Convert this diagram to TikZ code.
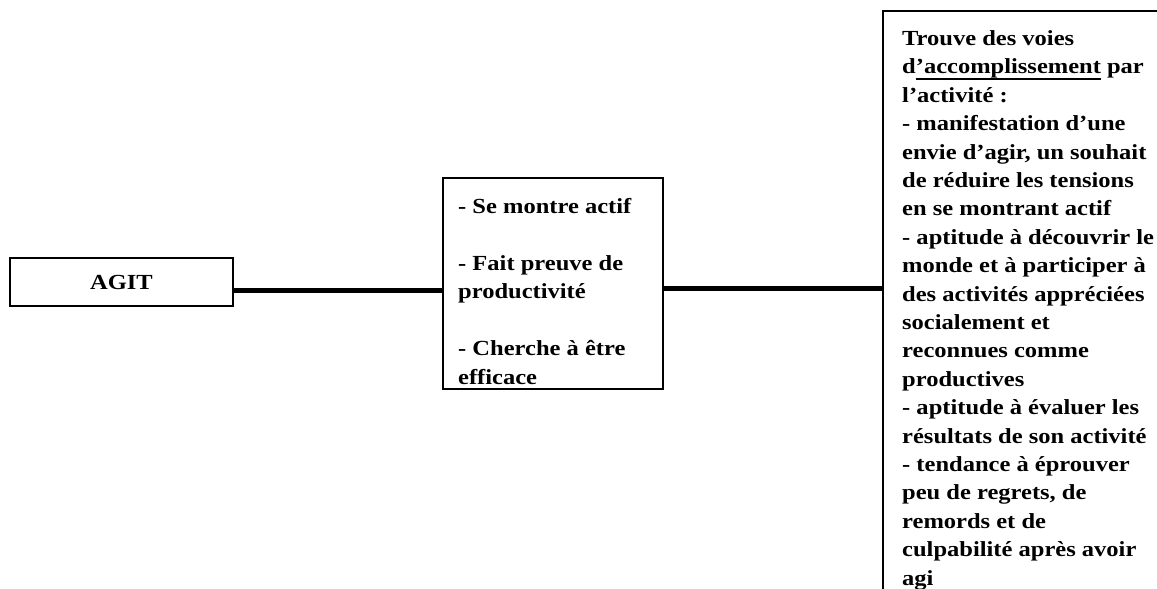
\documentclass[tikz,border=0pt]{standalone}
\usepackage{fontspec}
\setmainfont{Liberation Serif}[FakeStretch=1.14]
\newsavebox{\myulbox}
\newcommand{\myul}[1]{\sbox{\myulbox}{#1}\rlap{\vrule height -4pt depth 5.6pt width \wd\myulbox}\usebox{\myulbox}}
\begin{document}
\begin{tikzpicture}[x=1pt,y=-1pt,
  txt/.style={font=\fontsize{21.5pt}{28.4pt}\selectfont\bfseries, inner sep=0pt, align=left, text=black},
  boxframe/.style={draw=black, line width=1.8pt, fill=white, inner sep=0pt},
  link/.style={draw=black, line width=5pt}]
\useasboundingbox (0,0) rectangle (1157,589);
\clip (0,0) rectangle (1157,589);
% boxes
\node[boxframe, minimum width=223pt, minimum height=48pt,
      font=\fontsize{21.5pt}{28.4pt}\selectfont\bfseries, text height=15pt, text depth=1pt] (A) at (121.5,282) {AGIT};
\node[boxframe, minimum width=220pt, minimum height=211pt, anchor=north west] (M) at (442,177) {};
\node[boxframe, minimum width=420pt, minimum height=720pt, anchor=north west] (R) at (882,10) {};
% texts
\node[txt, anchor=north west] (Mt) at (458,198.4) {- Se montre actif\\[28.4pt]- Fait preuve de\\productivité\\[28.4pt]- Cherche à être\\efficace};
\node[txt, anchor=north west] (Rt) at (902,30.4) {Trouve des voies\\d\myul{’accomplissement} par\\l’activité :\\- manifestation d’une\\envie d’agir, un souhait\\de réduire les tensions\\en se montrant actif\\- aptitude à découvrir le\\monde et à participer à\\des activités appréciées\\socialement et\\reconnues comme\\productives\\- aptitude à évaluer les\\résultats de son activité\\- tendance à éprouver\\peu de regrets, de\\remords et de\\culpabilité après avoir\\agi};
% connectors
\coordinate (y1) at (0,290);
\coordinate (y2) at (0,288);
\draw[link] (A.east |- y1) -- (M.west |- y1);
\draw[link] (M.east |- y2) -- (R.west |- y2);
\end{tikzpicture}
\end{document}
